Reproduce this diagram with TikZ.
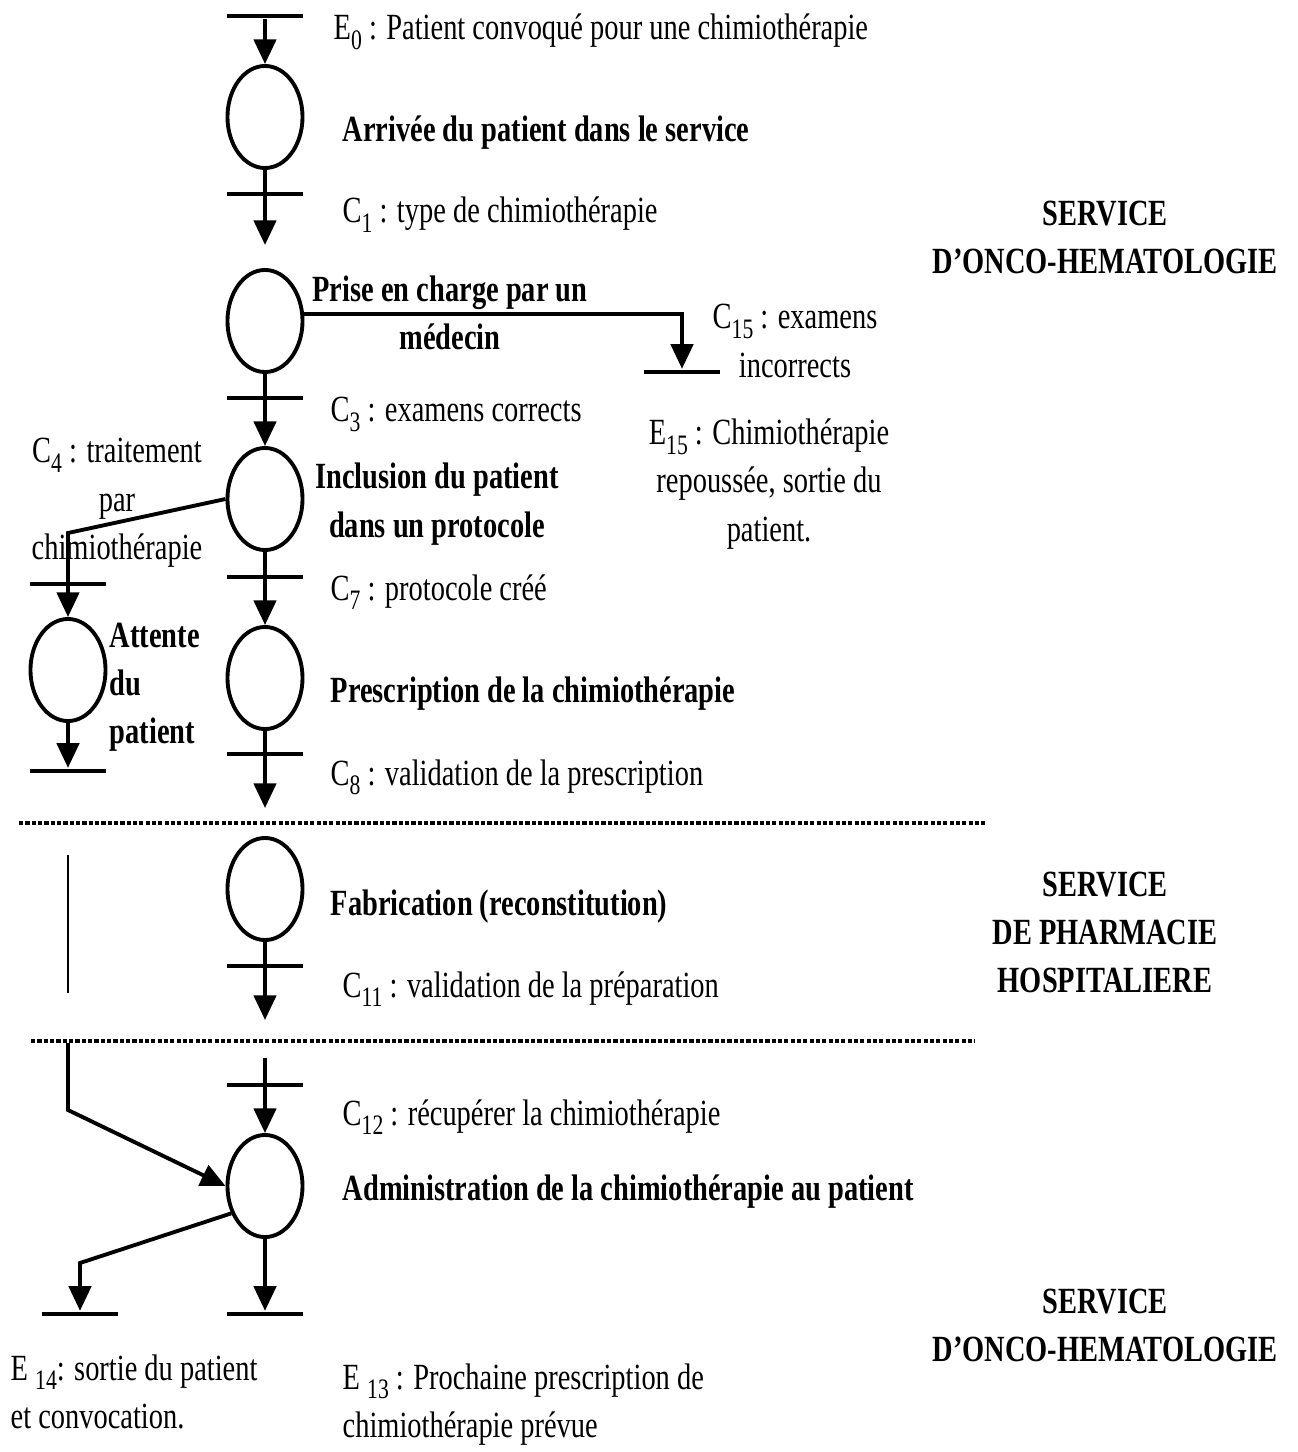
\documentclass[tikz,border=0pt]{standalone}
\usepackage{fontspec}
\setmainfont{Liberation Serif}[FakeStretch=0.77]
\usepackage{tikz}
\usetikzlibrary{arrows.meta,shapes.geometric}
\newcommand{\chPolice}{\fontsize{10.5pt}{13.65pt}\selectfont}
\newcommand{\chInd}[1]{\raisebox{-2.6pt}{\fontsize{8pt}{8pt}\selectfont #1}}
\tikzset{
  chtache/.style={ellipse, draw=black, line width=1.1pt, minimum width=0.75cm,
                  minimum height=1.02cm, inner sep=0pt},
  chbarre/.style={fill=black, minimum width=0.75cm, minimum height=1.4pt, inner sep=0pt},
  chlien/.style={draw=black, line width=1.1pt},
  chfleche/.style={chlien, -{Triangle[length=7pt, width=6.3pt]}},
  chfin/.style={draw=black, line width=0.85pt},
  chsep/.style={draw=black, line width=1.2pt, dash pattern=on 1.2pt off 0.6pt},
  chtexte/.style={font=\chPolice, anchor=base west, inner sep=0pt},
  chbloc/.style={font=\chPolice, anchor=base, inner sep=0pt, align=center},
  chgras/.style={font=\chPolice\bfseries, anchor=base west, inner sep=0pt},
  chtitre/.style={font=\chPolice\bfseries, anchor=base, inner sep=0pt, align=center},
}

\begin{document}
\begin{tikzpicture}[x=0.01cm, y=-0.01cm]
  \useasboundingbox (0,0) rectangle (1297,1452);
  % etapes
  \node[chtache] (arrivee) at (265,117) {};
  \node[chtache] (prise) at (265,321) {};
  \node[chtache] (inclusion) at (265,499) {};
  \node[chtache] (attente) at (68,670) {};
  \node[chtache] (prescription) at (265,678) {};
  \node[chtache] (fabrication) at (265,889) {};
  \node[chtache] (administration) at (265,1186) {};
  % barres
  \node[chbarre] (bE0) at (265,16) {};
  \node[chbarre] (bC1) at (265,194) {};
  \node[chbarre] (bC15) at (682,372) {};
  \node[chbarre] (bC3) at (265,398) {};
  \node[chbarre] (bC4) at (68,584) {};
  \node[chbarre] (bC7) at (265,577) {};
  \node[chbarre] (bAtt) at (68,771) {};
  \node[chbarre] (bC8) at (265,754) {};
  \node[chbarre] (bC11) at (265,966) {};
  \node[chbarre] (bC12) at (265,1085) {};
  \node[chbarre] (bE14) at (80,1314) {};
  \node[chbarre] (bE13) at (265,1314) {};
  \coordinate (t1) at (265,245);
  \coordinate (c4) at (68,533);
  \coordinate (t8) at (265,808);
  \coordinate (t11) at (265,1020);
  \coordinate (s12) at (265,1058);
  \coordinate (l1a) at (68,855);
  \coordinate (l1b) at (68,993);
  \coordinate (l2a) at (68,1043);
  \coordinate (l2b) at (68,1110);
  \coordinate (c14) at (80,1263);
  % liens
  \draw[chfleche] (bE0) -- (arrivee);
  \draw[chfleche] (arrivee) -- (t1);
  \draw[chfleche] (prise.10) -| (bC15);
  \draw[chfleche] (prise) -- (inclusion);
  \draw[chfleche] (inclusion.west) -- (c4) -- (attente);
  \draw[chfleche] (attente) -- (bAtt);
  \draw[chfleche] (inclusion) -- (prescription);
  \draw[chfleche] (prescription) -- (t8);
  \draw[chfleche] (fabrication) -- (t11);
  \draw[chfleche] (s12) -- (administration);
  \draw[chfin] (l1a) -- (l1b);
  \draw[chfleche] (l2a) -- (l2b) -- (administration.west);
  \draw[chfleche] (administration.219) -- (c14) -- (bE14);
  \draw[chfleche] (administration) -- (bE13);
  \draw[chsep] (19,823) -- (985,823);
  \draw[chsep] (31,1041) -- (975,1041);
  % textes
  \node[chtexte] (tE0) at (333,40) {E\chInd{0} : Patient convoqué pour une chimiothérapie};
  \node[chgras] (tArrivee) at (342,142) {Arrivée du patient dans le service};
  \node[chtexte] (tC1) at (342,223) {C\chInd{1} : type de chimiothérapie};
  \node[chtitre] (tPrise) at (450,350) {Prise en charge par un\\médecin};
  \node[chbloc] (tC15) at (795,377) {C\chInd{15} : examens\\incorrects};
  \node[chbloc] (tE15) at (769,541) {E\chInd{15} : Chimiothérapie\\repoussée, sortie du\\patient.};
  \node[chtexte] (tC3) at (330,422) {C\chInd{3} : examens corrects};
  \node[chtitre] (tInclusion) at (437,537) {Inclusion du patient\\dans un protocole};
  \node[chbloc] (tC4) at (117,559) {C\chInd{4} : traitement\\par\\chimiothérapie};
  \node[chtexte] (tC7) at (330,600) {C\chInd{7} : protocole créé};
  \node[chgras, align=left] (tAttente) at (109,743) {Attente\\du\\patient};
  \node[chgras] (tPrescription) at (330,702) {Prescription de la chimiothérapie};
  \node[chtexte] (tC8) at (330,785) {C\chInd{8} : validation de la prescription};
  \node[chgras] (tFabrication) at (330,915) {Fabrication (reconstitution)};
  \node[chtexte] (tC11) at (342,997) {C\chInd{11} : validation de la préparation};
  \node[chtexte] (tC12) at (342,1125) {C\chInd{12} : récupérer la chimiothérapie};
  \node[chgras] (tAdministration) at (342,1200) {Administration de la chimiothérapie au patient};
  \node[chtexte, align=left] (tE14) at (10,1428) {E \chInd{14}: sortie du patient\\et convocation.};
  \node[chtexte, align=left] (tE13) at (342,1437) {E \chInd{13} : Prochaine prescription de\\chimiothérapie prévue};
  \node[chtitre] (sOnco1) at (1105,274) {SERVICE\\D’ONCO-HEMATOLOGIE};
  \node[chtitre] (sPharma) at (1105,992) {SERVICE\\DE PHARMACIE\\HOSPITALIERE};
  \node[chtitre] (sOnco2) at (1105,1361) {SERVICE\\D’ONCO-HEMATOLOGIE};
\end{tikzpicture}
\end{document}
